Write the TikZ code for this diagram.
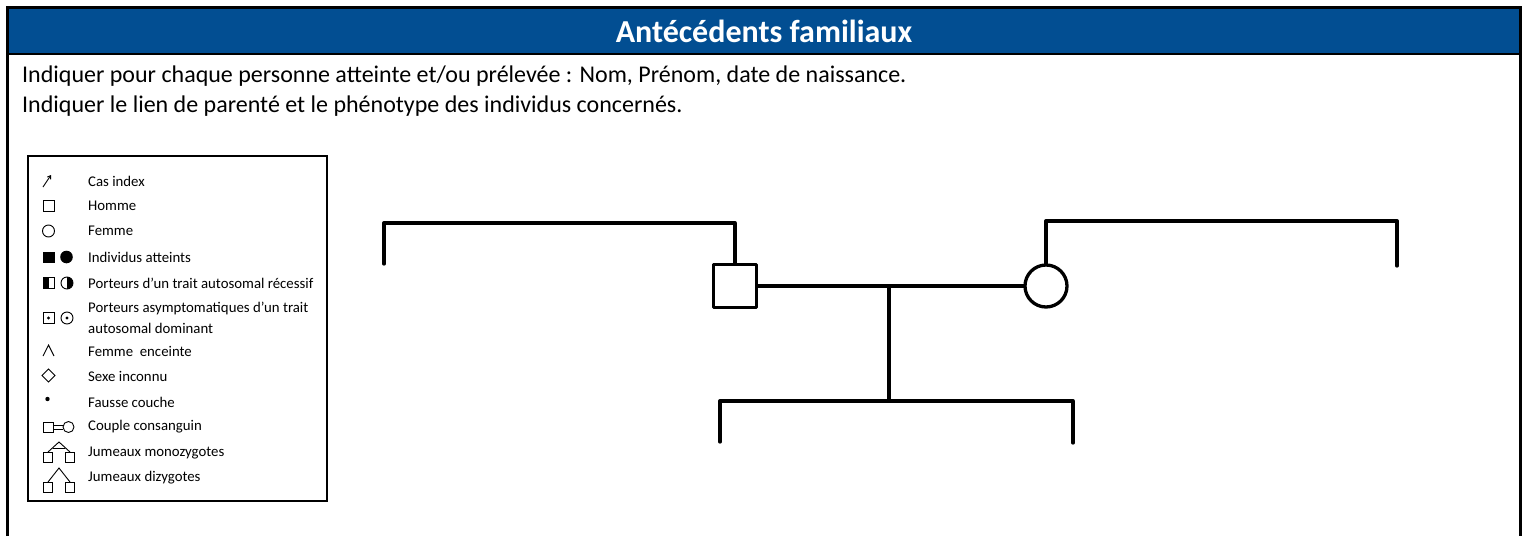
\documentclass[tikz,border=0pt]{standalone}
\usepackage{fontspec}
\setmainfont{Carlito}
\usepackage{xcolor}
\usetikzlibrary{arrows.meta}
\definecolor{headblue}{RGB}{2,78,146}

\begin{document}
\begin{tikzpicture}[x=1pt,y=-1pt,
  ped/.style={line width=3.3pt,line cap=round,line join=round},
  sym/.style={line width=0.9pt},
  legtxt/.style={anchor=west,inner sep=0,font=\fontsize{14.8}{17}\selectfont}]
  \useasboundingbox (0,0) rectangle (1523,536);
  % header and frame
  \fill[headblue] (7,7) rectangle (1520,54);
  \draw[line width=3pt] (7,536) -- (7,7) -- (1520,7) -- (1520,536);
  \draw[line width=2pt] (7,54) -- (1520,54);
  \node[text=white,font=\fontsize{32}{38}\selectfont\bfseries] (title) at (764,31) {Antécédents familiaux};
  \node[anchor=base west,inner sep=0,font=\fontsize{24}{29}\selectfont] (line1) at (22,82)
    {Indiquer pour chaque personne atteinte et/ou prélevée : Nom, Prénom, date de naissance.};
  \node[anchor=base west,inner sep=0,font=\fontsize{24}{29}\selectfont] (line2) at (22,112)
    {Indiquer le lien de parenté et le phénotype des individus concernés.};
  % legend
  \draw[line width=1.5pt] (28,156) rectangle (327,501);
  \foreach \y/\t in {181/Cas index,206/Homme,231/Femme,257/Individus atteints,
      283/Porteurs d’un trait autosomal récessif,308/Porteurs asymptomatiques d’un trait,
      328/autosomal dominant,351/Femme\ \ enceinte,376/Sexe inconnu,402/Fausse couche,
      427/Couple consanguin,453/Jumeaux monozygotes,478/Jumeaux dizygotes}
    \node[legtxt] (leg\y) at (88,\y) {\t};
  \draw[sym,-{Straight Barb[length=3pt,width=4pt]}] (43,187) -- (51,175);
  \draw[sym] (43,200.5) rectangle (54,211.5);
  \draw[sym] (48.5,231) circle (6);
  \fill (42.5,251.5) rectangle (54.5,263);
  \fill (66.5,257) circle (6.3);
  \draw[sym] (43,277.5) rectangle (54,288.5);
  \fill (43,277.5) rectangle (48.5,288.5);
  \draw[sym] (67,283) circle (6);
  \fill (67,289) arc (90:-90:6) -- cycle;
  \draw[sym] (43,312.5) rectangle (54,323.5);
  \fill (48.5,318) circle (1.6);
  \draw[sym] (67,318) circle (6);
  \fill (67,318) circle (1.6);
  \draw[sym] (43,356) -- (48.5,345) -- (54,356);
  \draw[sym] (48.5,369) -- (55,375.5) -- (48.5,382) -- (42,375.5) -- cycle;
  \fill (47.5,399) circle (2.2);
  \draw[sym] (43,422) rectangle (53,432);
  \draw[sym] (53,425) -- (63,425) (53,429) -- (63,429);
  \draw[sym] (68.5,427) circle (5.5);
  \draw[sym] (48,452) -- (59,442) -- (70,452);
  \draw[sym] (53,448) -- (65,448);
  \draw[sym] (43.5,452) rectangle (52.5,462) (65.5,452) rectangle (74.5,462);
  \draw[sym] (48,482) -- (59,468) -- (70,482);
  \draw[sym] (43.5,482) rectangle (52.5,492) (65.5,482) rectangle (74.5,492);
  % pedigree
  \node[ped,draw,minimum size=43pt,inner sep=0] (father) at (735,286) {};
  \node[ped,draw,circle,minimum size=42pt,inner sep=0] (mother) at (1046,286) {};
  \coordinate (lgl) at (384,264);
  \coordinate (lgbar) at (384,223);
  \coordinate (rgbar) at (1397,221);
  \coordinate (rgr) at (1397,266);
  \coordinate (desc) at (889,286);
  \coordinate (sib) at (889,401);
  \coordinate (kid1) at (720,442);
  \coordinate (kid2) at (1073,443);
  \draw[ped] (lgl) -- (lgbar) -| (father.north);
  \draw[ped] (mother.north) |- (rgbar) -- (rgr);
  \draw[ped] (father.east) -- (mother.west);
  \draw[ped] (desc) -- (sib);
  \draw[ped] (kid1) |- (sib) -| (kid2);
\end{tikzpicture}
\end{document}
